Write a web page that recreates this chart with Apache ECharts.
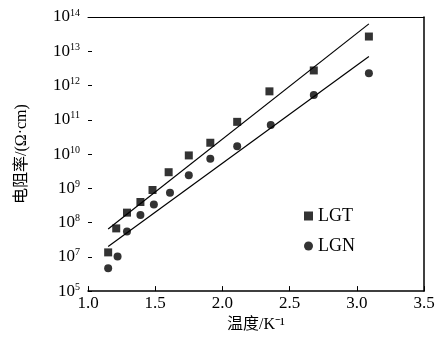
<!DOCTYPE html>
<html><head><meta charset="utf-8">
<script src="https://cdn.jsdelivr.net/npm/echarts@6/dist/echarts.min.js"></script>
<style>html,body{margin:0;padding:0;background:#fff}#c{width:439px;height:338px}</style>
</head><body><div id="c"></div>
<script>
// x: temperature 1/K ; y: log10 of resistivity
const lgtX = [1.15, 1.21, 1.29, 1.39, 1.48, 1.60, 1.75, 1.91, 2.11, 2.35, 2.68, 3.09];
const lgtY = [7.13, 7.83, 8.29, 8.60, 8.95, 9.47, 9.96, 10.33, 10.94, 11.83, 12.44, 13.43];
const lgnX = [1.15, 1.22, 1.29, 1.39, 1.49, 1.61, 1.75, 1.91, 2.11, 2.36, 2.68, 3.09];
const lgnY = [6.67, 7.01, 7.74, 8.22, 8.53, 8.87, 9.38, 9.86, 10.23, 10.85, 11.72, 12.36];
const lgtFitX = [1.15, 3.09];
const lgtFitY = [7.81, 13.80];
const lgnFitX = [1.15, 3.09];
const lgnFitY = [7.30, 12.85];
const yTickExp = ['5', '7', '8', '9', '10', '11', '12', '13', '14'];
const xTicks = ['1.0', '1.5', '2.0', '2.5', '3.0', '3.5'];

const zip = (a, b) => a.map((v, i) => [v, b[i]]);
const serif = 'Liberation Serif';
const mixed = '"Liberation Serif", "Noto Sans CJK SC"';
const chart = echarts.init(document.getElementById('c'));
chart.setOption({
  animation: false,
  backgroundColor: '#fff',
  grid: { left: 88, right: 15, top: 17, bottom: 46 },
  xAxis: [{
    type: 'value', min: 1.0, max: 3.5, interval: 0.5,
    name: '温度/K⁻¹', nameLocation: 'middle', nameGap: 25,
    nameTextStyle: { fontFamily: mixed, fontSize: 16, color: '#000' },
    axisLine: { show: true, lineStyle: { color: '#000', width: 1.5 } },
    axisTick: { show: true, inside: true, length: 5, lineStyle: { color: '#000' } },
    axisLabel: { color: '#000', fontFamily: serif, fontSize: 17, margin: 4,
      formatter: (v) => xTicks[Math.round((v - 1.0) / 0.5)] },
    splitLine: { show: false }
  }, {
    type: 'value', position: 'top', min: 1.0, max: 3.5,
    axisLine: { show: true, onZero: false, lineStyle: { color: '#000', width: 1 } },
    axisTick: { show: false }, axisLabel: { show: false }, splitLine: { show: false }
  }],
  yAxis: [{
    type: 'value', min: 6, max: 14, interval: 1,
    name: '电阻率/(Ω·cm)', nameLocation: 'middle', nameGap: 58, nameRotate: 90,
    nameTextStyle: { fontFamily: mixed, fontSize: 16, color: '#000' },
    axisLine: { show: false },
    axisTick: { show: true, inside: true, length: 4, lineStyle: { color: '#000' } },
    axisLabel: {
      margin: 8,
      formatter: (v) => '{b|10}{s|' + yTickExp[Math.round(v - 6)] + '}',
      rich: {
        b: { fontFamily: serif, fontSize: 17, color: '#000' },
        s: { fontFamily: serif, fontSize: 10, color: '#000', padding: [0, 0, 8, 0] }
      }
    },
    splitLine: { show: false }
  }, {
    type: 'value', position: 'right', min: 6, max: 14,
    axisLine: { show: true, onZero: false, lineStyle: { color: '#000', width: 1.5 } },
    axisTick: { show: false }, axisLabel: { show: false }, splitLine: { show: false }
  }],
  legend: {
    data: [{ name: 'LGT', icon: 'rect' }, { name: 'LGN', icon: 'circle' }],
    orient: 'vertical', left: 299, top: 202, itemWidth: 9, itemHeight: 9, itemGap: 12,
    textStyle: { fontFamily: serif, fontSize: 18, color: '#000' }
  },
  series: [
    { name: 'LGT', type: 'scatter', symbol: 'rect', symbolSize: 8,
      itemStyle: { color: '#000' }, data: zip(lgtX, lgtY) },
    { name: 'LGN', type: 'scatter', symbol: 'circle', symbolSize: 8,
      itemStyle: { color: '#000' }, data: zip(lgnX, lgnY) },
    { name: 'fitT', type: 'line', symbol: 'none', data: zip(lgtFitX, lgtFitY),
      lineStyle: { color: '#000', width: 1.2 } },
    { name: 'fitN', type: 'line', symbol: 'none', data: zip(lgnFitX, lgnFitY),
      lineStyle: { color: '#000', width: 1.2 } }
  ]
});
</script></body></html>
